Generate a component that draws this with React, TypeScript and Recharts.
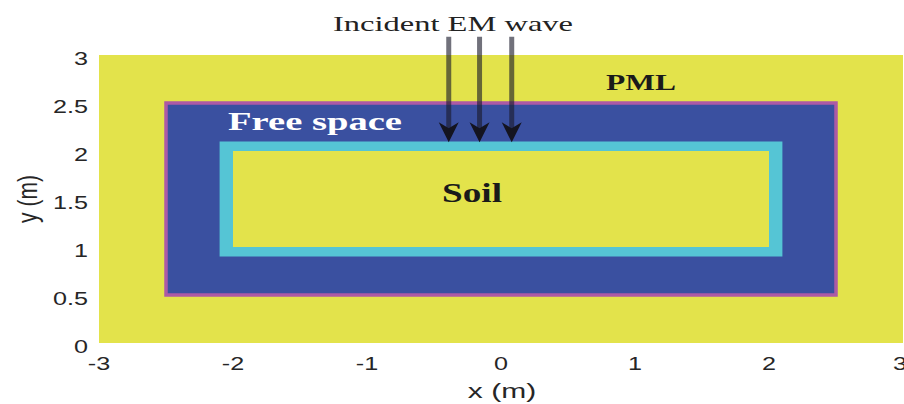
import React from "react"
import {
    ComposedChart,
    XAxis,
    YAxis,
    ReferenceArea,
    ReferenceLine,
    ReferenceDot,
    Scatter,
} from "recharts"

// computational domain, nested from outside in
const regionNames = ["PML", "Free space", "Transition", "Soil"]
const regionX1 = [-3, -2.5, -2.1, -2]
const regionX2 = [3, 2.5, 2.1, 2]
const regionY1 = [0, 0.5, 0.9, 1]
const regionY2 = [3, 2.5, 2.1, 2]

// incident wave rays
const waveX = [-0.39, -0.16, 0.08]
const waveTop = 3.19
const waveTip = 2.09

// annotations (anchor in data units)
const noteText = ["Incident EM wave", "PML", "Free space", "Soil"]
const noteX = [-0.358, 1.045, -1.388, -0.216]
const noteY = [3.25, 2.635, 2.22, 1.469]

const xTicks = [-3, -2, -1, 0, 1, 2, 3]
const yTicks = [0, 0.5, 1, 1.5, 2, 2.5, 3]

const regionFill = ["#e3e34b", "#3a50a0", "#55c5d5", "#e3e34b"]
const regionStroke = ["none", "#ad5aa5", "none", "none"]
const noteStyle = [
    { size: 22, weight: 400, width: 240, color: "#222" },
    { size: 24, weight: 700, width: 70, color: "#1a1a1a" },
    { size: 25, weight: 700, width: 174, color: "#ffffff" },
    { size: 27, weight: 700, width: 60, color: "#1a1a1a" },
]

const serif = "'Liberation Serif', 'Times New Roman', serif"
const sans = "'Liberation Sans', Arial, sans-serif"

const waves = waveX.map((x) => ({ x, y: waveTip }))

const XTick = (props: any) => {
    const { x, y, payload } = props
    return (
        <text
            transform={`translate(${x},${y + 27}) scale(1.4,1)`}
            textAnchor="middle"
            fontFamily={sans}
            fontSize={18}
            fill="#262626"
        >
            {payload.value}
        </text>
    )
}

const YTick = (props: any) => {
    const { x, y, payload } = props
    return (
        <text
            transform={`translate(${x - 11},${y + 9.5}) scale(1.4,1)`}
            textAnchor="end"
            fontFamily={sans}
            fontSize={18}
            fill="#262626"
        >
            {payload.value}
        </text>
    )
}

const ArrowHead = (props: any) => {
    const { cx, cy } = props
    return (
        <path
            d={`M${cx},${cy} L${cx - 10},${cy - 20} L${cx},${cy - 14} L${cx + 10},${cy - 20} Z`}
            fill="#141420"
        />
    )
}

export default function App() {
    return (
        <div style={{ position: "absolute", left: 0, top: 0, background: "#fff" }}>
            <ComposedChart
                width={904}
                height={404}
                margin={{ top: 55, right: 1, bottom: 0, left: 0 }}
            >
                <XAxis
                    type="number"
                    dataKey="x"
                    domain={[-3, 3]}
                    ticks={xTicks}
                    axisLine={false}
                    tickLine={false}
                    tickSize={0}
                    tickMargin={0}
                    height={61}
                    tick={<XTick />}
                    allowDataOverflow
                    label={{
                        content: (p: any) => {
                            const vb = p.viewBox
                            return (
                                <text
                                    transform={`translate(${vb.x + vb.width / 2 + 1},${vb.y + 55}) scale(1.5,1)`}
                                    textAnchor="middle"
                                    fontFamily={sans}
                                    fontSize={20}
                                    fill="#262626"
                                >
                                    x (m)
                                </text>
                            )
                        },
                    }}
                />
                <YAxis
                    type="number"
                    dataKey="y"
                    domain={[0, 3]}
                    ticks={yTicks}
                    axisLine={false}
                    tickLine={false}
                    tickSize={0}
                    tickMargin={0}
                    width={99}
                    tick={<YTick />}
                    allowDataOverflow
                    label={{
                        content: (p: any) => {
                            const vb = p.viewBox
                            return (
                                <text
                                    transform={`translate(27,${vb.y + vb.height / 2}) scale(1.35,1) rotate(-90)`}
                                    textAnchor="middle"
                                    dominantBaseline="central"
                                    fontFamily={sans}
                                    fontSize={21}
                                    fill="#262626"
                                >
                                    y (m)
                                </text>
                            )
                        },
                    }}
                />

                {regionNames.map((name, i) => (
                    <ReferenceArea
                        key={name}
                        x1={regionX1[i]}
                        x2={regionX2[i]}
                        y1={regionY1[i]}
                        y2={regionY2[i]}
                        fill={regionFill[i]}
                        fillOpacity={1}
                        stroke={regionStroke[i]}
                        strokeWidth={3.5}
                    />
                ))}

                {waveX.map((x) => (
                    <ReferenceLine
                        key={x}
                        segment={[
                            { x, y: waveTop },
                            { x, y: waveTip + 0.12 },
                        ]}
                        stroke="#1a1a2a"
                        strokeOpacity={0.62}
                        strokeWidth={5}
                        ifOverflow="visible"
                    />
                ))}

                <Scatter data={waves} shape={<ArrowHead />} isAnimationActive={false} />

                {noteText.map((t, i) => {
                    const s = noteStyle[i]
                    return (
                        <ReferenceDot
                            key={t}
                            x={noteX[i]}
                            y={noteY[i]}
                            r={0}
                            ifOverflow="visible"
                            shape={(p: any) => (
                                <text
                                    x={p.cx - s.width / 2}
                                    y={p.cy}
                                    textLength={s.width}
                                    lengthAdjust="spacingAndGlyphs"
                                    fontFamily={serif}
                                    fontSize={s.size}
                                    fontWeight={s.weight}
                                    fill={s.color}
                                >
                                    {t}
                                </text>
                            )}
                        />
                    )
                })}
            </ComposedChart>
        </div>
    )
}
